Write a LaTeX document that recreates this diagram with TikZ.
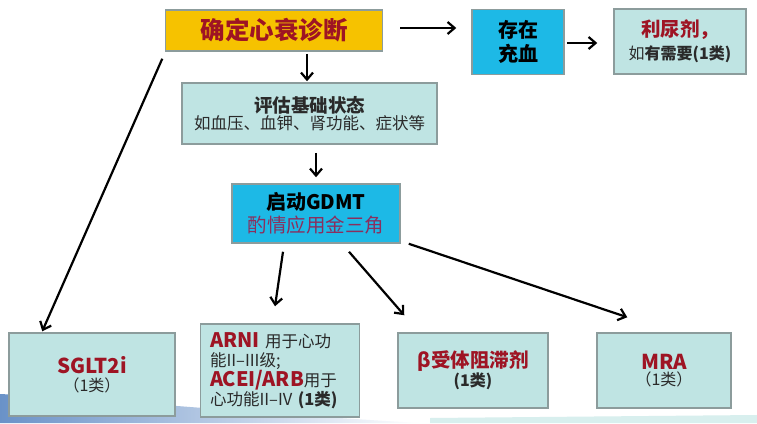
\documentclass[tikz,border=0pt]{standalone}
\usepackage{fontspec}
\setmainfont{Noto Sans CJK SC}
\usetikzlibrary{arrows.meta,calc}
\definecolor{gold}{HTML}{F6C200}
\definecolor{dred}{HTML}{9E1424}
\definecolor{lcyan}{HTML}{BFE4E3}
\definecolor{cyanb}{HTML}{1DB9E6}
\definecolor{bord}{HTML}{8C9C9C}
\definecolor{purp}{HTML}{8A2F5E}
\definecolor{dgray}{HTML}{2A2A2A}
\definecolor{footblue}{HTML}{6A92C8}
\newcommand\fsz[2]{\fontsize{#1}{#2}\selectfont}
\begin{document}
\begin{tikzpicture}[x=1pt,y=-1pt,
  box/.style={draw=bord, line width=1.5pt, fill=lcyan, inner sep=0pt, align=center, text=dgray},
  arr/.style={-{Straight Barb[length=7pt,width=12pt,line width=2.2pt]}, line width=2.2pt, black}]
\useasboundingbox (0,0) rectangle (757,423);
\fill[white] (0,0) rectangle (757,423);
% footer decoration
\shade[left color=footblue, right color=white] (0,394) .. controls (120,400) and (260,414) .. (420,423) -- (0,423) -- cycle;
\fill[lcyan!60] (430,418) -- (757,415) -- (757,423) -- (430,423) -- cycle;
% nodes
\node[box, fill=gold, minimum width=217pt, minimum height=41pt, font=\bfseries\fsz{24.5}{28}, text=dred] (diag) at (274,30.5)
  {确定心衰诊断};
\node[box, minimum width=255pt, minimum height=61pt] (eval) at (309.5,113.5)
  {{\bfseries\fsz{18.5}{23}评估基础状态}\\{\fsz{16.5}{20}如血压、血钾、肾功能、症状等}};
\node[box, fill=cyanb, minimum width=168pt, minimum height=59pt, text=black] (gdmt) at (316,213.5)
  {{\bfseries\fsz{20}{24}启动GDMT}\\[4pt]{\color{purp}\fsz{19.5}{24}酌情应用金三角}};
\node[box, fill=cyanb, minimum width=92pt, minimum height=65pt, text=black, font=\bfseries\fsz{20}{22}] (cong) at (518,42)
  {存在\\[1.5pt]充血};
\node[box, minimum width=132pt, minimum height=65pt] (diur) at (680,41.5)
  {{\bfseries\color{dred}\fsz{19.5}{24}利尿剂，}\\[5pt]{\fsz{16}{20}如{\bfseries 有需要(1类)}}};
\node[box, minimum width=166pt, minimum height=83pt] (sglt) at (92,374.5)
  {{\bfseries\color{dred}\fsz{20.5}{25}SGLT2i}\\[3pt]{\fsz{16}{20}（1类）}};
\node[box, minimum width=159pt, minimum height=93pt, text width=140pt, align=left, font=\fsz{16.5}{19.5}] (arni) at (280,370.5)
  {{\bfseries\color{dred}\fsz{20}{19.5}ARNI} 用于心功\\能II–III级;\\{\bfseries\color{dred}\fsz{20}{19.5}ACEI/ARB}用于\\心功能II–IV {\bfseries(1类)}};
\node[box, minimum width=150pt, minimum height=75pt] (beta) at (473,370.5)
  {{\bfseries\color{dred}\fsz{19.5}{24}β受体阻滞剂}\\{\bfseries\fsz{16}{21}(1类)}};
\node[box, minimum width=134pt, minimum height=75pt] (mra) at (664,370.5)
  {{\bfseries\color{dred}\fsz{20.5}{25}MRA}\\[2pt]{\fsz{16}{22}（1类）}};
% connectors
\coordinate (a1) at ($(eval.north)+(-2.5,0)$);
\draw[arr, shorten <=2pt, shorten >=1pt] (a1 |- diag.south) -- (a1);
\draw[arr, shorten <=8pt, shorten >=6pt] (eval.south -| gdmt.north) -- (gdmt.north);
\coordinate (a2) at ($(diag.east)+(0,-2.5)$);
\draw[arr, shorten <=17pt, shorten >=15pt] (a2) -- (a2 -| cong.west);
\coordinate (a3) at ($(cong.east)+(0,1)$);
\draw[arr, shorten <=2pt, shorten >=16pt] (a3) -- (a3 -| diur.west);
\draw[arr] ($(diag.south west)+(-2.5,7)$) -- ($(sglt.north west)+(34,-1)$);
\draw[arr] ($(gdmt.south)+(-33,8)$) -- ($(arni.north)+(-5,-17)$);
\draw[arr] ($(gdmt.south)+(33,8)$) -- ($(beta.north west)+(7,-17)$);
\draw[arr] ($(gdmt.south east)+(8,0)$) -- ($(mra.north west)+(31,-15)$);
\end{tikzpicture}
\end{document}
